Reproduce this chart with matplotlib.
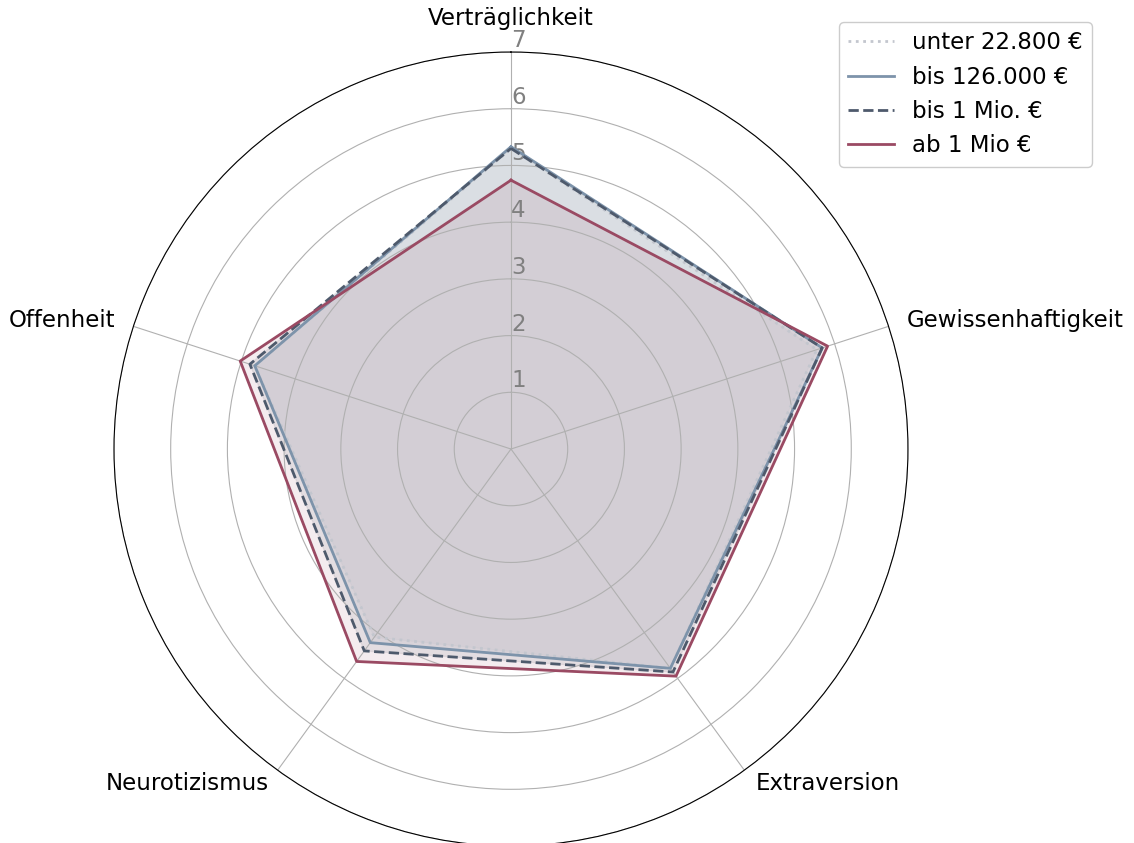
import matplotlib
matplotlib.use("Agg")
import matplotlib.pyplot as plt
import numpy as np

kategorien = ["Verträglichkeit", "Gewissenhaftigkeit", "Extraversion", "Neurotizismus", "Offenheit"]

unter_22800 = [5.30, 5.67, 4.78, 4.10, 4.75]
bis_126000 = [5.33, 5.77, 4.78, 4.22, 4.75]
bis_1mio = [5.30, 5.77, 4.86, 4.40, 4.84]
ab_1mio = [4.74, 5.87, 4.95, 4.63, 5.02]

serien = [
    ("unter 22.800 €", unter_22800, "#c3c6ce", ":"),
    ("bis 126.000 €", bis_126000, "#7d93aa", "-"),
    ("bis 1 Mio. €", bis_1mio, "#4e5a6c", "--"),
    ("ab 1 Mio €", ab_1mio, "#9a4a63", "-"),
]

n = len(kategorien)
winkel = np.linspace(0, 2 * np.pi, n, endpoint=False)
winkel_zu = np.concatenate([winkel, winkel[:1]])

fig = plt.figure(figsize=(11.34, 8.43), dpi=100)
ax = fig.add_axes([0.1005, -0.0036, 0.7002, 0.9419], polar=True)
ax.set_theta_offset(np.pi / 2)
ax.set_theta_direction(-1)

for name, werte, farbe, stil in serien:
    w = np.concatenate([werte, werte[:1]])
    ax.plot(winkel_zu, w, color=farbe, linestyle=stil, linewidth=2, label=name)
    ax.fill(winkel_zu, w, color=farbe, alpha=0.1)

ax.set_ylim(0, 7)
ax.set_yticks(range(1, 8))
ax.set_yticklabels([str(i) for i in range(1, 8)], color="grey", fontsize=16.5)
ax.set_rlabel_position(0)
ax.set_xticks(winkel)
ax.set_xticklabels([])
ax.grid(color="#b0b0b0", linewidth=0.8)

# Beschriftungen der Achsen (Winkel in Grad, Radius, Ausrichtung)
ausrichtung = [(0, 7.39, "center", "bottom"), (72, 7.34, "left", "center"),
               (142.9, 7.14, "left", "top"), (216.9, 7.12, "right", "top"),
               (288, 7.34, "right", "center")]
for name, (t, r, ha, va) in zip(kategorien, ausrichtung):
    ax.text(np.deg2rad(t), r, name, ha=ha, va=va, fontsize=16.5, clip_on=False)

fig.legend(loc="upper right", bbox_to_anchor=(0.963, 0.974), borderaxespad=0,
           fontsize=16.5, framealpha=1)

fig.savefig("out.png", dpi=100)
